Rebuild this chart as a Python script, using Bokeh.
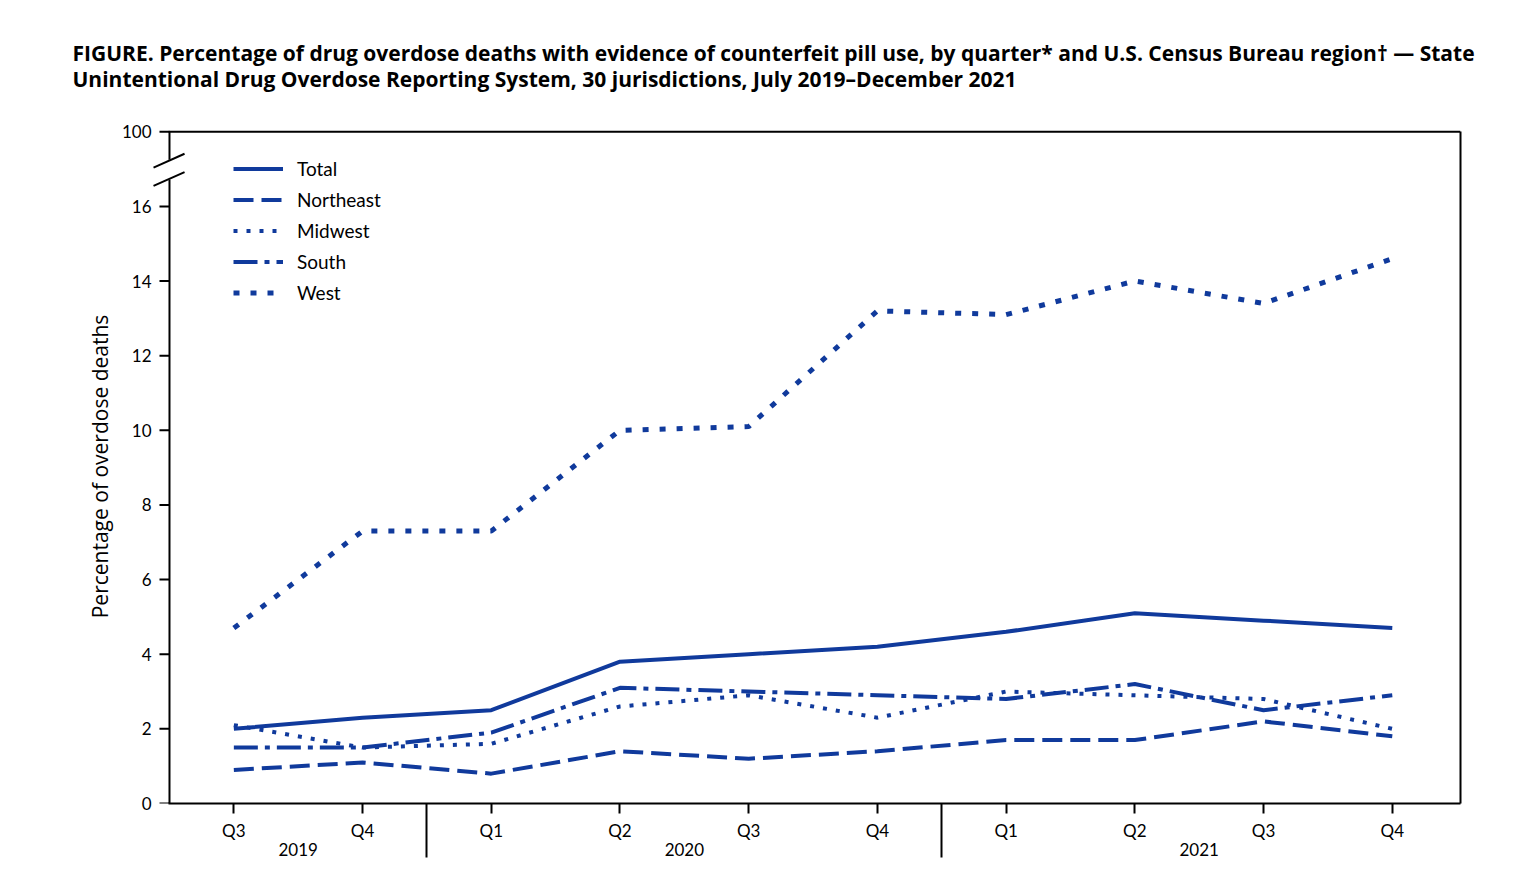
from bokeh.plotting import figure
from bokeh.models import Range1d, FixedTicker, LinearAxis, Legend, LegendItem
from bokeh.embed import file_html
from bokeh.resources import INLINE

# ---- data ----
quarters = ["Q3", "Q4", "Q1", "Q2", "Q3", "Q4", "Q1", "Q2", "Q3", "Q4"]
years = ["2019", "2020", "2021"]
year_centers = [0.5, 3.5, 7.5]
year_dividers = [1.5, 5.5]
total = [2.0, 2.3, 2.5, 3.8, 4.0, 4.2, 4.6, 5.1, 4.9, 4.7]
northeast = [0.9, 1.1, 0.8, 1.4, 1.2, 1.4, 1.7, 1.7, 2.2, 1.8]
midwest = [2.1, 1.5, 1.6, 2.6, 2.9, 2.3, 3.0, 2.9, 2.8, 2.0]
south = [1.5, 1.5, 1.9, 3.1, 3.0, 2.9, 2.8, 3.2, 2.5, 2.9]
west = [4.7, 7.3, 7.3, 10.0, 10.1, 13.2, 13.1, 14.0, 13.4, 14.6]
y_ticks = [0, 2, 4, 6, 8, 10, 12, 14, 16]
y_top_label = "100"

xs = list(range(len(quarters)))
AXIS_TOP = 18          # position on the broken axis that stands for 100
X_LEFT, X_RIGHT = -0.5, 9.53
BREAK_LO, BREAK_HI = 16.72, 17.25
COLOR = "#103A9C"
FONT = "Lato"
FONT2 = "Open Sans"

p = figure(width=1536, height=880, output_backend="svg", toolbar_location=None,
           x_range=Range1d(-0.632, X_RIGHT), y_range=Range1d(0, 18.06),
           min_border_left=152, min_border_right=76, min_border_top=129,
           min_border_bottom=77)
p.outline_line_color = None
p.xgrid.visible = False
p.ygrid.visible = False
p.background_fill_color = "white"
p.border_fill_color = "white"

# title
p.title.text = ("FIGURE. Percentage of drug overdose deaths with evidence of counterfeit pill use, "
                "by quarter* and U.S. Census Bureau region\u2020 \u2014 State\n"
                "Unintentional Drug Overdose Reporting System, 30 jurisdictions, July 2019\u2013December 2021")
p.title.text_font = FONT2
p.title.text_font_size = "21px"
p.title.text_font_style = "bold"
p.title.text_color = "black"
p.title.align = "left"
p.title.offset = -80
p.title.standoff = 72
p.title.text_line_height = 0.95

# x axis (quarters) with year dividers as long minor ticks
xa = p.xaxis[0]
xa.ticker = FixedTicker(ticks=xs, minor_ticks=year_dividers)
xa.major_label_overrides = {i: q for i, q in enumerate(quarters)}
xa.bounds = (-0.508, X_RIGHT)
xa.major_tick_in = 0
xa.major_tick_out = 10
xa.minor_tick_in = 0
xa.minor_tick_out = 54
xa.minor_tick_line_width = 2
xa.minor_tick_line_color = "black"
xa.major_label_standoff = -38
xa.major_label_text_font = FONT
xa.major_label_text_font_size = "17px"
xa.major_label_text_color = "black"
xa.axis_line_width = 2
xa.major_tick_line_width = 2
xa.axis_line_color = "black"

# second x axis: years
ya2 = LinearAxis(ticker=FixedTicker(ticks=year_centers),
                 major_label_overrides={c: y for c, y in zip(year_centers, years)},
                 major_tick_in=0, major_tick_out=0, major_tick_line_color=None,
                 minor_tick_line_color=None, axis_line_color=None,
                 major_label_standoff=-1, major_label_text_font=FONT,
                 major_label_text_font_size="17px", major_label_text_color="black")
p.add_layout(ya2, "below")

# y axis: labels only; line and ticks drawn with the broken frame below
ya = p.yaxis[0]
ya.ticker = FixedTicker(ticks=y_ticks + [AXIS_TOP])
ya.major_label_overrides = {AXIS_TOP: y_top_label}
ya.minor_tick_line_color = None
ya.major_tick_line_color = None
ya.axis_line_color = None
ya.major_tick_in = 0
ya.major_tick_out = 0
ya.major_label_standoff = 1
ya.major_label_text_font = FONT
ya.major_label_text_font_size = "17px"
ya.major_label_text_color = "black"
ya.axis_label = "Percentage of overdose deaths"
ya.axis_label_text_font = FONT2
ya.axis_label_text_font_size = "21px"
ya.axis_label_text_font_style = "normal"
ya.axis_label_text_color = "black"
ya.axis_label_standoff = 5

# right frame edge
ra = LinearAxis(major_tick_in=0, major_tick_out=0, minor_tick_line_color=None,
                major_label_text_font_size="0px", axis_line_width=2,
                axis_line_color="black", bounds=(0, AXIS_TOP))
ra.ticker = FixedTicker(ticks=[])
p.add_layout(ra, "right")

# broken left axis, top edge, y ticks and break marks
tick_len = 10 / 128.7
p.segment(x0=[X_LEFT, X_LEFT, X_LEFT - 0.006], y0=[0, BREAK_HI, AXIS_TOP],
          x1=[X_LEFT, X_LEFT, X_RIGHT], y1=[BREAK_LO, AXIS_TOP, AXIS_TOP],
          line_color="black", line_width=2)
p.segment(x0=[X_LEFT - tick_len] * (len(y_ticks) + 1), y0=y_ticks + [AXIS_TOP],
          x1=[X_LEFT] * (len(y_ticks) + 1), y1=y_ticks + [AXIS_TOP],
          line_color="black", line_width=2)
p.segment(x0=[-0.624, -0.624], y0=[17.04, 16.55], x1=[-0.383, -0.383], y1=[17.41, 16.92],
          line_color="black", line_width=2)

# series
r_total = p.line(xs, total, line_color=COLOR, line_width=4)
r_ne = p.line(xs, northeast, line_color=COLOR, line_width=4, line_dash="20 8")
r_mw = p.line(xs, midwest, line_color=COLOR, line_width=4, line_dash="4 9")
r_so = p.line(xs, south, line_color=COLOR, line_width=4, line_dash="24 7 5 7")
r_we = p.line(xs, west, line_color=COLOR, line_width=5, line_dash="6 11")

legend = Legend(items=[
    LegendItem(label="Total", renderers=[r_total]),
    LegendItem(label="Northeast", renderers=[r_ne]),
    LegendItem(label="Midwest", renderers=[r_mw]),
    LegendItem(label="South", renderers=[r_so]),
    LegendItem(label="West", renderers=[r_we]),
], location=(81, 499), margin=0, padding=0, spacing=8,
    label_height=23, glyph_height=23, glyph_width=50, label_standoff=14,
    label_text_font=FONT, label_text_font_size="19px", label_text_color="black",
    border_line_color=None, background_fill_alpha=0)
p.add_layout(legend, "center")

open("out.html", "w").write(file_html(p, INLINE))
